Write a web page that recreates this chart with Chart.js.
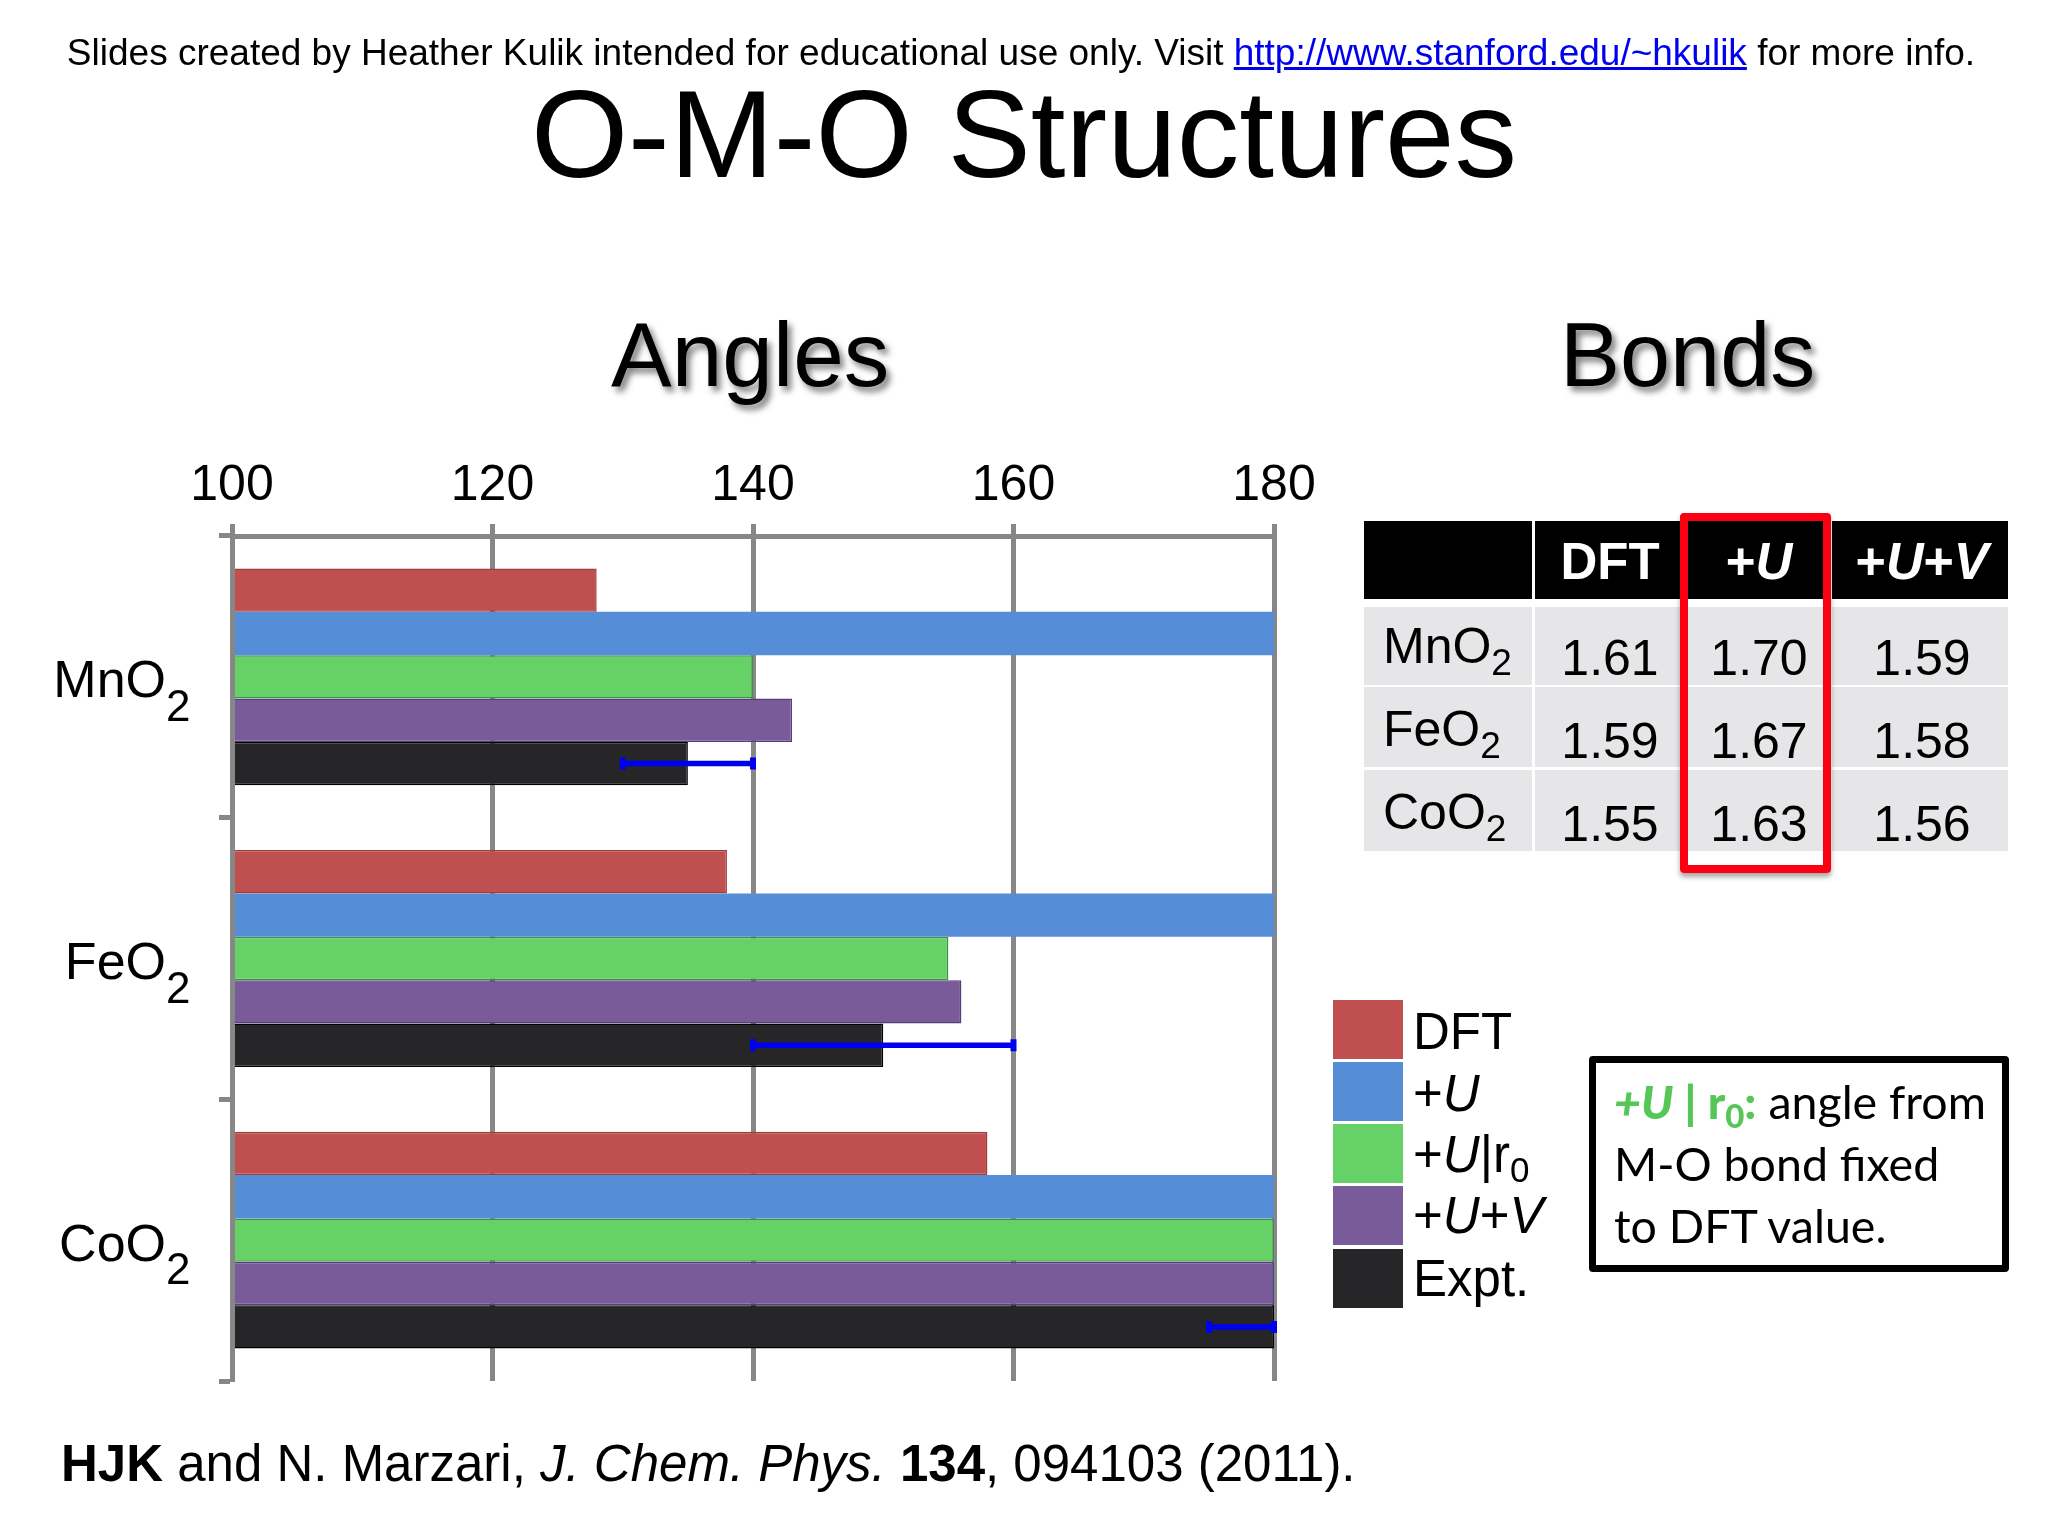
<!DOCTYPE html>
<html><head><meta charset="utf-8">
<script src="https://cdn.jsdelivr.net/npm/chart.js@4"></script>
<style>
html,body{margin:0;padding:0;background:#fff;width:2048px;height:1536px;overflow:hidden}
#chart{position:absolute;left:0;top:0}
.t{position:absolute;white-space:nowrap;line-height:1;font-family:"Liberation Sans",Arial,sans-serif;color:#000}
.box{position:absolute;box-sizing:border-box}
</style></head><body>
<canvas id="chart" width="2048" height="1536" style="width:2048px;height:1536px"></canvas>
<script>
const categories=['MnO2','FeO2','CoO2'];
const axisTicks=[100,120,140,160,180];
const dftAngles=[128,138,158];
const uAngles=[180,180,180];
const ur0Angles=[140,155,180];
const uvAngles=[143,156,180];
const exptAngles=[135,150,180];
const exptLow=[130,140,175];
const exptHigh=[140,160,180];
const seriesNames=['DFT','+U','+U|r0','+U+V','Expt.'];
const seriesColors=['#c0504f','#558dd6','#66d166','#7a5b99','#262527'];
const seriesBorders=['#a03c3c','#558dd6','#3f8f4a','#52407a','#000000'];
const bondCols=['DFT','+U','+U+V'];
const bondMn=['1.61','1.70','1.59'];
const bondFe=['1.59','1.67','1.58'];
const bondCo=['1.55','1.63','1.56'];

const SANS='"Liberation Sans",Arial,sans-serif';
const GRID='#878787';
Chart.defaults.devicePixelRatio=1;

const extras={id:'extras',afterDatasetsDraw(c){
  const x=c.scales.x,ctx=c.ctx,meta=c.getDatasetMeta(4);
  ctx.save();ctx.strokeStyle='#0000f0';ctx.lineWidth=5.5;
  exptLow.forEach((lo,i)=>{
    const y=meta.data[i].y,a=x.getPixelForValue(lo),b=x.getPixelForValue(exptHigh[i]);
    ctx.beginPath();ctx.moveTo(a,y);ctx.lineTo(b,y);ctx.stroke();
    ctx.lineWidth=6;ctx.beginPath();
    ctx.moveTo(a,y-6);ctx.lineTo(a,y+6);ctx.moveTo(b,y-6);ctx.lineTo(b,y+6);ctx.stroke();
    ctx.lineWidth=5.5;
  });
  ctx.restore();
},afterDraw(c){
  const y=c.scales.y,ctx=c.ctx;
  ctx.save();ctx.fillStyle='#000';ctx.font='44px '+SANS;ctx.textAlign='left';ctx.textBaseline='alphabetic';
  categories.forEach((n,i)=>ctx.fillText(n.slice(-1),166,y.getPixelForTick(i)+44));
  ctx.restore();
}};

new Chart(document.getElementById('chart'),{
  type:'bar',
  plugins:[extras],
  data:{labels:categories,datasets:[dftAngles,uAngles,ur0Angles,uvAngles,exptAngles].map((d,i)=>({
    label:seriesNames[i],data:d,backgroundColor:seriesColors[i],borderColor:seriesBorders[i],
    borderWidth:i===1?0:1.5,clip:{left:-3,top:0,right:i===1?5:1,bottom:0},
    barPercentage:1,categoryPercentage:0.77
  }))},
  options:{
    indexAxis:'y',responsive:false,animation:false,
    layout:{padding:{left:0,top:0,right:774,bottom:155}},
    plugins:{legend:{display:false},tooltip:{enabled:false},title:{display:false}},
    scales:{
      x:{position:'top',min:100,max:180,
        afterBuildTicks(s){s.ticks=axisTicks.map(v=>({value:v}));},
        afterFit(s){s.height=536;},
        grid:{color:GRID,lineWidth:5,tickLength:12,tickColor:GRID,tickWidth:5},
        border:{color:GRID,width:5},
        ticks:{color:'#000',font:{family:SANS,size:50},padding:8,maxRotation:0}},
      y:{afterFit(s){s.width=232;},
        grid:{drawOnChartArea:false,drawTicks:true,tickLength:13,tickColor:GRID,tickWidth:5},
        border:{color:GRID,width:5},
        ticks:{color:'#000',font:{family:SANS,size:52},padding:53,labelOffset:6,
          callback(v){return categories[v].slice(0,-1);}}}
    }
  }
});

function text(html,x,base,size,opt={}){
  const e=document.createElement('div');e.className='t';e.innerHTML=html;
  const k=opt.lato?0.887:0.8465;
  e.style.top=(base-k*size)+'px';e.style.fontSize=size+'px';
  if(opt.lato)e.style.fontFamily='Lato,sans-serif';
  if(opt.center){e.style.left=x+'px';e.style.transform='translateX(-50%)';}else e.style.left=x+'px';
  if(opt.color)e.style.color=opt.color;if(opt.weight)e.style.fontWeight=opt.weight;
  if(opt.shadow)e.style.textShadow=opt.shadow;
  document.body.appendChild(e);return e;
}
function box(x,y,w,h,css){const e=document.createElement('div');e.className='box';
  e.style.cssText+=`left:${x}px;top:${y}px;width:${w}px;height:${h}px;`+css;document.body.appendChild(e);return e;}
function sb(s,px,dy){return `<span style="font-size:${px}px;position:relative;top:${dy}px">${s}</span>`;}
function ital(s){return s.replace(/([UV])/g,'<i>$1</i>');}

text('Slides created by Heather Kulik intended for educational use only. Visit <a href="#" style="color:#0000ee;text-decoration:underline">http://www.stanford.edu/~hkulik</a> for more info.',1021,65,37,{center:true});
text('O-M-O Structures',1024,177,125,{center:true});
const SH='4px 5px 6px rgba(0,0,0,.5)';
text('Angles',611,386,91,{shadow:SH});
text('Bonds',1560,386,90,{shadow:SH});

// table
const colX=[[1364,168],[1535,145],[1683,147],[1832,176]];
colX.forEach(c=>box(c[0],521,c[1],78,'background:#000'));
const rowY=[[607,78],[687,80],[770,81]];
rowY.forEach(r=>colX.forEach(c=>box(c[0],r[0],c[1],r[1],'background:#e6e6e8')));
const colC=[1610,1759,1922];
const headSize=[51,51,52];
bondCols.forEach((n,i)=>text(ital(n),colC[i],579,headSize[i],{center:true,color:'#fff',weight:'bold'}));
const rowBase=[675,758,841],labBase=[663,746,829];
[bondMn,bondFe,bondCo].forEach((r,j)=>{
  text(categories[j].slice(0,-1)+sb('2',37,12),1383,labBase[j],50);
  r.forEach((v,i)=>text(v,colC[i],rowBase[j],50,{center:true}));
});
box(1680,513,151,360,'border:8px solid #fa0010;border-radius:4px;box-shadow:0 4px 5px rgba(0,0,0,.35)');

// legend
const swY=[1000,1062,1124,1186,1249],legBase=[1049,1111,1172,1233,1296];
seriesNames.forEach((n,i)=>{
  box(1333,swY[i],70,59,'background:'+seriesColors[i]);
  const h=ital(n).replace('r0','r'+sb('0',35,10));
  text(h,1413,legBase[i],51);
});

// note
box(1589,1056,420,216,'border:7px solid #000;border-radius:4px');
const G='color:#55c757;font-weight:900';
text(`<span style="${G}"><i>+U</i> | r${sb('0',33,9)}:</span> angle from`,1614,1119,46.5,{lato:true});
text('M-O bond fixed',1614,1181,46.5,{lato:true});
text('to DFT value.',1614,1243,46.5,{lato:true});

text('<b>HJK</b> and N. Marzari, <i>J. Chem. Phys.</i> <b>134</b>, 094103 (2011).',61,1481,51);
</script>
</body></html>
